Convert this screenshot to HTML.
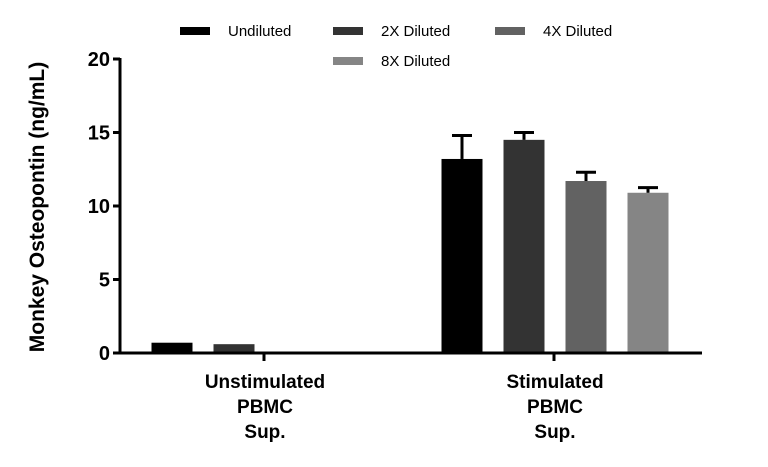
<!DOCTYPE html>
<html><head><meta charset="utf-8"><style>
body{margin:0;background:#fff;}
svg{font-family:"Liberation Sans","DejaVu Sans",sans-serif;display:block}
</style></head><body>
<svg id="chart" width="768" height="467"></svg>
<script>
const categories=["Unstimulated|PBMC|Sup.","Stimulated|PBMC|Sup."];
const series=["Undiluted","2X Diluted","4X Diluted","8X Diluted"];
const colors=["#000000","#333333","#626262","#858585"];
const undiluted=[0.7,13.2];
const diluted2x=[0.6,14.5];
const diluted4x=[0,11.7];
const diluted8x=[0,10.9];
const err=[[0,1.6],[0,0.5],[0,0.6],[0,0.35]];
const yTicks=[0,5,10,15,20];
const vals=[undiluted,diluted2x,diluted4x,diluted8x];
const NS="http://www.w3.org/2000/svg";
const svg=document.getElementById('chart');
const x0=120,x1=702,yb=353,yt=59;
const y=v=>yb-(v/20)*(yb-yt);
const groupC=[265,555];
const bw=41,step=62;
function mk(t,a,p){const e=document.createElementNS(NS,t);for(const k in a)e.setAttribute(k,a[k]);(p||svg).appendChild(e);return e;}
vals.forEach((s,si)=>{s.forEach((v,ci)=>{
 if(v<=0)return;
 const cx=groupC[ci]+(si-1.5)*step;
 const r=mk('rect',{x:cx-bw/2,y:y(v),width:bw,height:yb-y(v),fill:colors[si]});
 
 
 const e=err[si][ci];
 if(e>0){
  const g=mk('g',{stroke:'#000','stroke-width':3});
  
  
  mk('line',{x1:cx,x2:cx,y1:y(v),y2:y(v+e)},g);
  mk('line',{x1:cx-10,x2:cx+10,y1:y(v+e),y2:y(v+e)},g);
 }
});});
const ax=mk('g',{stroke:'#000','stroke-width':3});


mk('line',{x1:x0,x2:x0,y1:yt-1,y2:yb+1.5},ax);
mk('line',{x1:x0-1.5,x2:x1,y1:yb,y2:yb},ax);
yTicks.forEach(t=>{mk('line',{x1:x0-7,x2:x0,y1:y(t),y2:y(t)},ax);
 const tx=mk('text',{x:x0-10,y:y(t)+7,'text-anchor':'end','font-size':20,'font-weight':'bold',fill:'#000'});
 tx.textContent=t;
 
 
});
categories.forEach((c,ci)=>{
 mk('line',{x1:groupC[ci]-1,x2:groupC[ci]-1,y1:yb,y2:yb+8},ax);
 c.split('|').forEach((ln,li)=>{
  const t=mk('text',{x:groupC[ci],y:388+li*25,'text-anchor':'middle','font-size':19,'font-weight':'bold',fill:'#000'});
  t.textContent=ln;
  
  
 });
});
const yt2=mk('text',{x:0,y:0,transform:'translate(44,207) rotate(-90)','text-anchor':'middle','font-size':21,'font-weight':'bold',fill:'#000'});
yt2.textContent='Monkey Osteopontin (ng/mL)';


const leg=[[180,31],[333,31],[495,31],[333,61]];
series.forEach((s,si)=>{
 const g=mk('g',{});
 
 
 mk('rect',{x:leg[si][0],y:leg[si][1]-4,width:30,height:8,fill:colors[si]},g);
 const t=mk('text',{x:leg[si][0]+48,y:leg[si][1]+5,'font-size':15,fill:'#000'},g);
 t.textContent=s;
});
</script>
</body></html>
